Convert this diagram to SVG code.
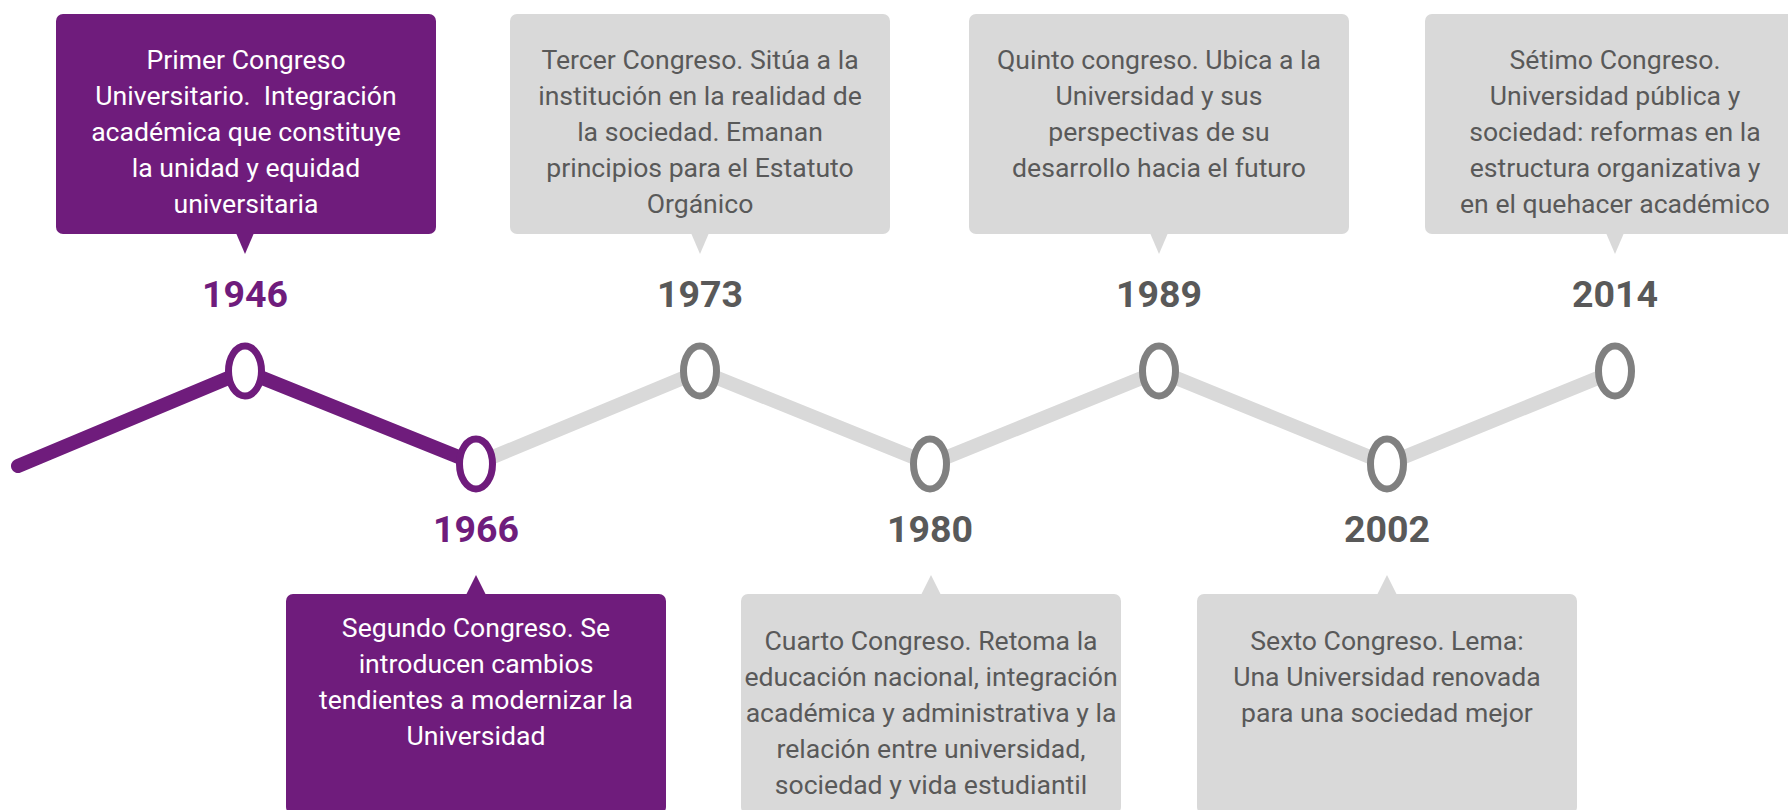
<svg xmlns="http://www.w3.org/2000/svg" width="1788" height="810" viewBox="0 0 1788 810">
<style>
.bp{fill:#6F1C7C}
.bg{fill:#D9D9D9}
.tw{font-family:Roboto,"Liberation Sans",sans-serif;font-size:26.6px;fill:#FFFFFF;text-anchor:middle}
.tg{font-family:Roboto,"Liberation Sans",sans-serif;font-size:26.6px;fill:#595959;text-anchor:middle}
.yp{font-family:Roboto,"Liberation Sans",sans-serif;font-size:37.5px;font-weight:bold;fill:#6F1C7C;text-anchor:middle}
.yg{font-family:Roboto,"Liberation Sans",sans-serif;font-size:37.5px;font-weight:bold;fill:#595959;text-anchor:middle}
.lp{fill:none;stroke:#6F1C7C;stroke-width:14;stroke-linecap:round;stroke-linejoin:round}
.lg{fill:none;stroke:#D9D9D9;stroke-width:14;stroke-linecap:round;stroke-linejoin:round}
.cp{fill:#FFFFFF;stroke:#6F1C7C;stroke-width:7}
.cg{fill:#FFFFFF;stroke:#808080;stroke-width:7}
</style>
<rect width="1788" height="810" fill="#FFFFFF"/>
<g id="connectors">
<polyline class="lg" points="476,464 700,371 930,464 1159,371 1387,464 1615,371"/>
<polyline class="lp" points="18,466 245,371 476,464"/>
</g>
<g id="n1946">
<rect class="bp" x="56" y="14" width="380" height="220" rx="7"/>
<polygon class="bp" points="236,233 254,233 245,254"/>
<text class="tw" x="246" y="69">Primer Congreso</text>
<text class="tw" x="246" y="105">Universitario.&#160; Integración</text>
<text class="tw" x="246" y="141">académica que constituye</text>
<text class="tw" x="246" y="177">la unidad y equidad</text>
<text class="tw" x="246" y="213">universitaria</text>
<text class="yp" x="245" y="307">1946</text>
<ellipse class="cp" cx="245" cy="371" rx="16.5" ry="25"/>
</g>
<g id="n1966">
<rect class="bp" x="286" y="594" width="380" height="220" rx="7"/>
<polygon class="bp" points="466,595 486,595 476,575"/>
<text class="tw" x="476" y="637">Segundo Congreso. Se</text>
<text class="tw" x="476" y="673">introducen cambios</text>
<text class="tw" x="476" y="709">tendientes a modernizar la</text>
<text class="tw" x="476" y="745">Universidad</text>
<text class="yp" x="476" y="542">1966</text>
<ellipse class="cp" cx="476" cy="464" rx="16.5" ry="25"/>
</g>
<g id="n1973">
<rect class="bg" x="510" y="14" width="380" height="220" rx="7"/>
<polygon class="bg" points="691,233 709,233 700,254"/>
<text class="tg" x="700" y="69">Tercer Congreso. Sitúa a la</text>
<text class="tg" x="700" y="105">institución en la realidad de</text>
<text class="tg" x="700" y="141">la sociedad. Emanan</text>
<text class="tg" x="700" y="177">principios para el Estatuto</text>
<text class="tg" x="700" y="213">Orgánico</text>
<text class="yg" x="700" y="307">1973</text>
<ellipse class="cg" cx="700" cy="371" rx="16.5" ry="25"/>
</g>
<g id="n1980">
<rect class="bg" x="741" y="594" width="380" height="220" rx="7"/>
<polygon class="bg" points="921,595 941,595 931,575"/>
<text class="tg" x="931" y="650">Cuarto Congreso. Retoma la</text>
<text class="tg" x="931" y="686">educación nacional, integración</text>
<text class="tg" x="931" y="722">académica y administrativa y la</text>
<text class="tg" x="931" y="758">relación entre universidad,</text>
<text class="tg" x="931" y="794">sociedad y vida estudiantil</text>
<text class="yg" x="930" y="542">1980</text>
<ellipse class="cg" cx="930" cy="464" rx="16.5" ry="25"/>
</g>
<g id="n1989">
<rect class="bg" x="969" y="14" width="380" height="220" rx="7"/>
<polygon class="bg" points="1150,233 1168,233 1159,254"/>
<text class="tg" x="1159" y="69">Quinto congreso. Ubica a la</text>
<text class="tg" x="1159" y="105">Universidad y sus</text>
<text class="tg" x="1159" y="141">perspectivas de su</text>
<text class="tg" x="1159" y="177">desarrollo hacia el futuro</text>
<text class="yg" x="1159" y="307">1989</text>
<ellipse class="cg" cx="1159" cy="371" rx="16.5" ry="25"/>
</g>
<g id="n2002">
<rect class="bg" x="1197" y="594" width="380" height="220" rx="7"/>
<polygon class="bg" points="1377,595 1397,595 1387,575"/>
<text class="tg" x="1387" y="650">Sexto Congreso. Lema:</text>
<text class="tg" x="1387" y="686">Una Universidad renovada</text>
<text class="tg" x="1387" y="722">para una sociedad mejor</text>
<text class="yg" x="1387" y="542">2002</text>
<ellipse class="cg" cx="1387" cy="464" rx="16.5" ry="25"/>
</g>
<g id="n2014">
<rect class="bg" x="1425" y="14" width="380" height="220" rx="7"/>
<polygon class="bg" points="1606,233 1624,233 1615,254"/>
<text class="tg" x="1615" y="69">Sétimo Congreso.</text>
<text class="tg" x="1615" y="105">Universidad pública y</text>
<text class="tg" x="1615" y="141">sociedad: reformas en la</text>
<text class="tg" x="1615" y="177">estructura organizativa y</text>
<text class="tg" x="1615" y="213">en el quehacer académico</text>
<text class="yg" x="1615" y="307">2014</text>
<ellipse class="cg" cx="1615" cy="371" rx="16.5" ry="25"/>
</g>
</svg>
